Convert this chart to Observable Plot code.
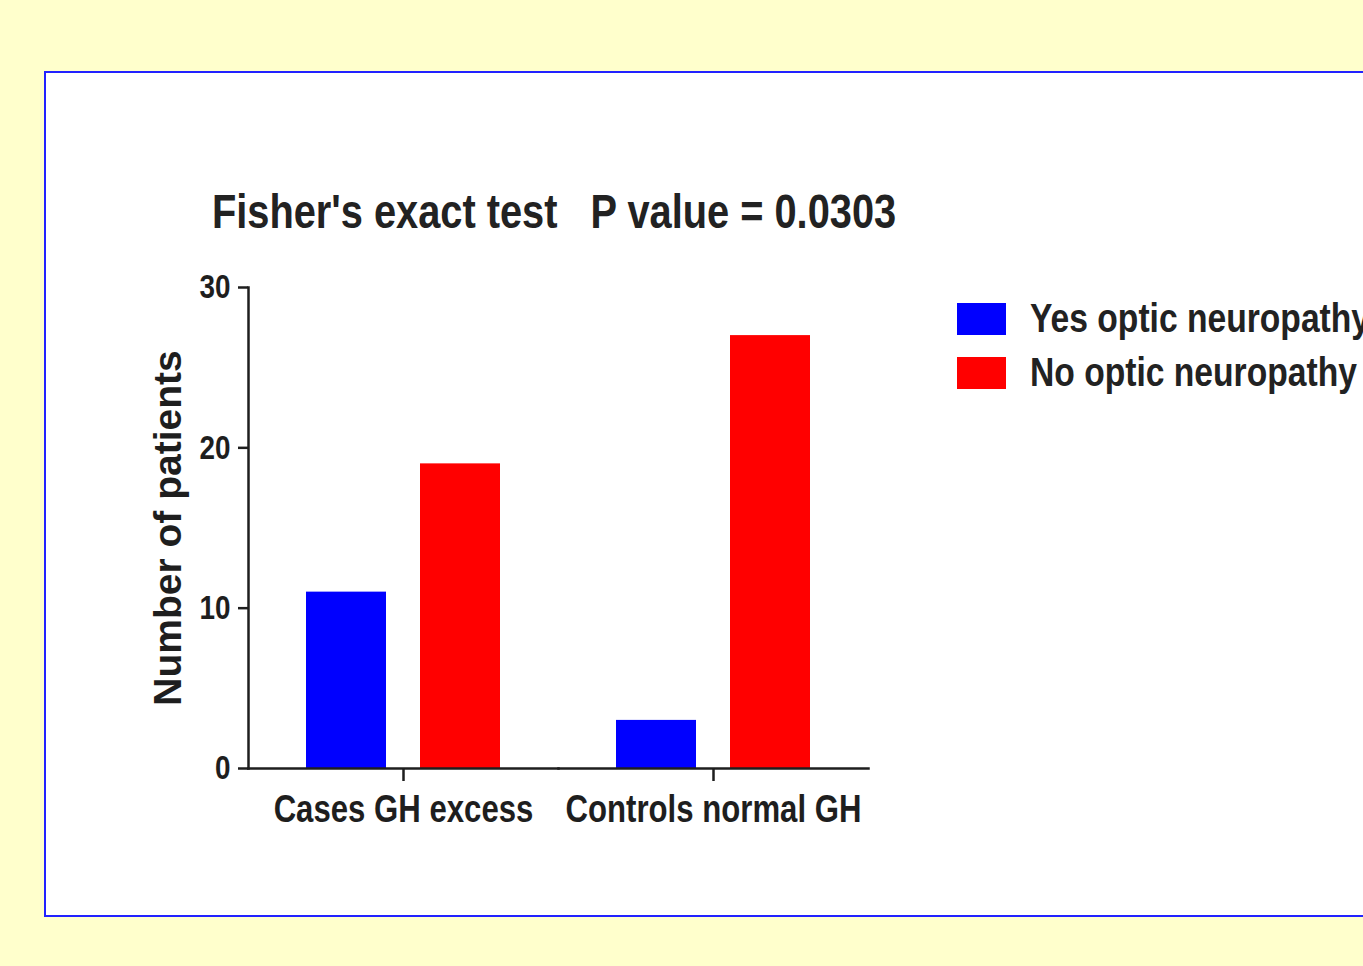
<!DOCTYPE html>
<html>
<head>
<meta charset="utf-8">
<script src="https://cdn.jsdelivr.net/npm/d3@7"></script>
<script src="https://cdn.jsdelivr.net/npm/@observablehq/plot@0.6"></script>
<style>
  html, body { margin: 0; padding: 0; }
  body {
    width: 1363px; height: 966px; overflow: hidden; position: relative;
    background: #ffffcc;
    font-family: "Liberation Sans", Arial, sans-serif;
    font-weight: bold;
    color: #222;
  }
  #panel {
    position: absolute; left: 44px; top: 71px; width: 1400px; height: 842px;
    background: #fff; border: 2.5px solid #2222ff;
  }
  /* condensed lettering: regular face compressed horizontally */
  .narrow { display: inline-block; transform: scaleX(0.82); transform-origin: 0 50%; white-space: pre; }
  #title { position: absolute; left: 212px; top: 187px; font-size: 48.5px; line-height: 48px; }
  #legend { position: absolute; left: 957px; top: 0; }
  .swatch { position: absolute; left: 0; width: 49px; height: 32px; }
  .item { position: absolute; left: 73px; font-size: 41px; line-height: 41px; }
  #chart { position: absolute; left: 0; top: 0; }
</style>
</head>
<body>
<div id="panel"></div>
<div id="title"><span class="narrow"></span></div>
<div id="legend"></div>
<div id="chart"></div>
<script>
// Patients with and without optic neuropathy, by group
const groups = ["Cases GH excess", "Controls normal GH"];
const seriesNames = ["Yes optic neuropathy", "No optic neuropathy"];
const yesValues = [11, 3];
const noValues = [19, 27];
const seriesColors = ["#0000ff", "#ff0000"];
const yTicks = [0, 10, 20, 30];
const titleText = "Fisher's exact test   P value = 0.0303";
const yLabel = "Number of patients";

const rows = groups.flatMap((g, i) => [
  {group: g, series: seriesNames[0], value: yesValues[i]},
  {group: g, series: seriesNames[1], value: noValues[i]}
]);

const ink = "#1e1e1e";

const chart = Plot.plot({
  width: 900,
  height: 850,
  marginTop: 287,
  marginLeft: 247,
  marginRight: 32,
  marginBottom: 82,
  style: {background: "transparent", fontFamily: "'Liberation Sans', Arial, sans-serif", color: ink, overflow: "visible"},
  fx: {domain: groups, padding: 0, label: null},
  x: {domain: seriesNames, paddingInner: 0.296, paddingOuter: 0.5, axis: null},
  y: {domain: [0, 30], label: null},
  color: {domain: seriesNames, range: seriesColors},
  marks: [
    Plot.barY(rows, {fx: "group", x: "series", y: "value", fill: "series"}),
    Plot.frame({anchor: "bottom", stroke: ink, strokeWidth: 2.5}),
    Plot.frame({anchor: "left", stroke: ink, strokeWidth: 2.5, facetAnchor: "left"}),
    Plot.axisY({ticks: yTicks, tickSize: 10, tickPadding: 8, fontSize: 34, fontWeight: "bold",
                strokeWidth: 2.5, label: null}),
    Plot.axisY({ticks: [], tickSize: 0, label: yLabel, labelAnchor: "center", labelOffset: 95,
                labelArrow: "none", fontSize: 39, fontWeight: "bold"}),
    Plot.axisFx({anchor: "bottom", tickSize: 13, tickPadding: 14, fontSize: 38, fontWeight: "bold",
                 strokeWidth: 2.5, label: null})
  ]
});

// Compress the tick labels horizontally about their anchor point
d3.select(chart).selectAll("text").each(function () {
  if (this.textContent === yLabel) return;
  const t = this.getAttribute("transform") || "";
  const x = +this.getAttribute("x") || 0;
  this.setAttribute("transform", `${t} translate(${x},0) scale(0.82,1) translate(${-x},0)`);
});
document.getElementById("chart").append(chart);

document.querySelector("#title .narrow").textContent = titleText;

// Legend: swatch plus series name, one row per series
const legend = document.getElementById("legend");
const rowTops = [303, 357];
seriesNames.forEach((name, i) => {
  const sw = document.createElement("div");
  sw.className = "swatch";
  sw.style.top = rowTops[i] + "px";
  sw.style.background = chart.scale("color").apply(name);
  legend.append(sw);
  const item = document.createElement("div");
  item.className = "item";
  item.style.top = (rowTops[i] - 5.5) + "px";
  const lab = document.createElement("span");
  lab.className = "narrow";
  lab.textContent = name;
  item.append(lab);
  legend.append(item);
});
</script>
</body>
</html>
